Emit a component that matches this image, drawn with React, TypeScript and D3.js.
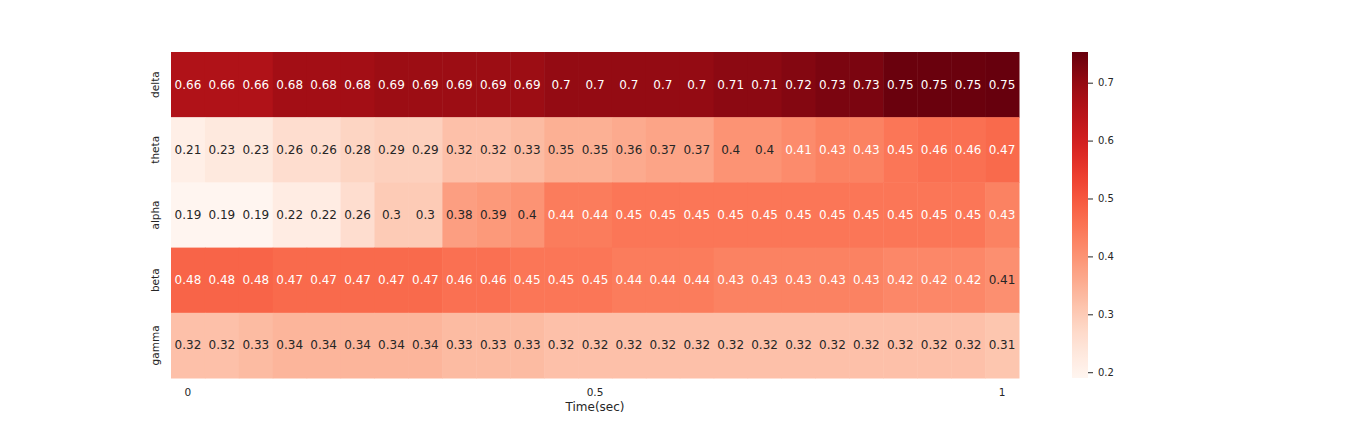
import React, { useEffect, useRef } from "react";
import * as d3 from "d3";

// frequency bands (rows) and 25 time steps (columns)
const bands = ["delta", "theta", "alpha", "beta", "gamma"];
const delta = [0.66, 0.66, 0.66, 0.68, 0.68, 0.68, 0.69, 0.69, 0.69, 0.69, 0.69, 0.7, 0.7, 0.7, 0.7, 0.7, 0.71, 0.71, 0.72, 0.73, 0.73, 0.75, 0.75, 0.75, 0.753];
const theta = [0.21, 0.23, 0.23, 0.26, 0.26, 0.28, 0.29, 0.29, 0.32, 0.32, 0.33, 0.35, 0.35, 0.36, 0.37, 0.37, 0.4, 0.4, 0.413, 0.43, 0.43, 0.45, 0.46, 0.46, 0.47];
const alpha = [0.19, 0.19, 0.19, 0.22, 0.22, 0.26, 0.3, 0.3, 0.38, 0.39, 0.4, 0.44, 0.44, 0.45, 0.45, 0.45, 0.45, 0.45, 0.45, 0.45, 0.45, 0.45, 0.45, 0.45, 0.43];
const beta = [0.48, 0.48, 0.48, 0.47, 0.47, 0.47, 0.47, 0.47, 0.46, 0.46, 0.45, 0.45, 0.45, 0.44, 0.44, 0.44, 0.43, 0.43, 0.43, 0.43, 0.43, 0.42, 0.42, 0.42, 0.406];
const gamma = [0.32, 0.32, 0.33, 0.34, 0.34, 0.34, 0.34, 0.34, 0.33, 0.33, 0.33, 0.32, 0.32, 0.32, 0.32, 0.32, 0.32, 0.32, 0.32, 0.32, 0.32, 0.32, 0.32, 0.32, 0.31];
const xTickLabels = ["0", "0.5", "1"];
const xTickCols = [0, 12, 24];
const cbarTicks = [0.2, 0.3, 0.4, 0.5, 0.6, 0.7];

const FONT = "DejaVu Sans, sans-serif";

export default function App() {
  const ref = useRef<SVGSVGElement>(null);

  useEffect(() => {
    const width = 1368;
    const height = 432;
    const left = 171, right = 1019, top = 52, bottom = 378;

    const svg = d3.select(ref.current).attr("width", width).attr("height", height);
    svg.selectAll("*").remove();

    const rows = [delta, theta, alpha, beta, gamma];
    const cells: { r: number; c: number; v: number }[] = [];
    rows.forEach((arr, r) => arr.forEach((v, c) => cells.push({ r, c, v })));

    const vmin = d3.min(cells, d => d.v) as number;
    const vmax = d3.max(cells, d => d.v) as number;
    const color = d3.scaleSequential(d3.interpolateReds).domain([vmin, vmax]);

    const xScale = d3.scaleBand<number>().domain(d3.range(delta.length)).range([left, right]);
    const yScale = d3.scaleBand<string>().domain(bands).range([top, bottom]);

    // same rule seaborn uses to pick annotation colour
    const lum = (c: string) => {
      const rgb = d3.rgb(c);
      const f = (x: number) => {
        x = x / 255;
        return x <= 0.03928 ? x / 12.92 : Math.pow((x + 0.055) / 1.055, 2.4);
      };
      return 0.2126 * f(rgb.r) + 0.7152 * f(rgb.g) + 0.0722 * f(rgb.b);
    };

    const g = svg.append("g");
    g.selectAll("rect.cell").data(cells).join("rect")
      .attr("class", "cell")
      .attr("x", d => xScale(d.c) as number)
      .attr("y", d => yScale(bands[d.r]) as number)
      .attr("width", xScale.bandwidth() + 0.5)
      .attr("height", yScale.bandwidth() + 0.5)
      .attr("fill", d => color(d.v));

    g.selectAll("text.annot").data(cells).join("text")
      .attr("class", "annot")
      .attr("x", d => (xScale(d.c) as number) + xScale.bandwidth() / 2)
      .attr("y", d => (yScale(bands[d.r]) as number) + yScale.bandwidth() / 2)
      .attr("text-anchor", "middle")
      .attr("dominant-baseline", "central")
      .style("font-family", FONT)
      .style("font-size", "12px")
      .attr("fill", d => (lum(color(d.v)) > 0.408 ? "#262626" : "#ffffff"))
      .text(d => String(+d.v.toFixed(2)));

    // row labels
    svg.selectAll("text.ylab").data(bands).join("text")
      .attr("class", "ylab")
      .attr("transform", d => `translate(159, ${(yScale(d) as number) + yScale.bandwidth() / 2}) rotate(-90)`)
      .attr("text-anchor", "middle")
      .style("font-family", FONT)
      .style("font-size", "10.5px")
      .attr("fill", "#262626")
      .text(d => d);

    // x tick labels
    svg.selectAll("text.xlab").data(xTickCols).join("text")
      .attr("class", "xlab")
      .attr("x", d => (xScale(d) as number) + xScale.bandwidth() / 2)
      .attr("y", 396)
      .attr("text-anchor", "middle")
      .style("font-family", FONT)
      .style("font-size", "10.5px")
      .attr("fill", "#262626")
      .text((d, i) => xTickLabels[i]);

    svg.append("text")
      .attr("x", (left + right) / 2)
      .attr("y", 411)
      .attr("text-anchor", "middle")
      .style("font-family", FONT)
      .style("font-size", "12px")
      .attr("fill", "#262626")
      .text("Time(sec)");

    // colorbar
    const cbX = 1072, cbW = 16;
    const cbScale = d3.scaleLinear().domain([vmin, vmax]).range([bottom, top]);
    const defs = svg.append("defs");
    const grad = defs.append("linearGradient").attr("id", "cbar")
      .attr("x1", 0).attr("y1", 1).attr("x2", 0).attr("y2", 0);
    d3.range(0, 1.0001, 0.02).forEach(t => {
      grad.append("stop").attr("offset", t).attr("stop-color", d3.interpolateReds(t));
    });
    svg.append("rect").attr("x", cbX).attr("y", top).attr("width", cbW).attr("height", bottom - top)
      .attr("fill", "url(#cbar)");

    const cbAxis = svg.append("g")
      .attr("transform", `translate(${cbX + cbW}, 0)`)
      .call(d3.axisRight(cbScale).tickValues(cbarTicks).tickSize(5).tickPadding(5).tickFormat(d3.format(".1f")));
    cbAxis.select(".domain").remove();
    cbAxis.selectAll(".tick line").attr("stroke", "#262626");
    cbAxis.selectAll(".tick text").attr("fill", "#262626").style("font-family", FONT).style("font-size", "10px");
  }, []);

  return <svg ref={ref} style={{ position: "absolute", left: 0, top: 0 }} />;
}
